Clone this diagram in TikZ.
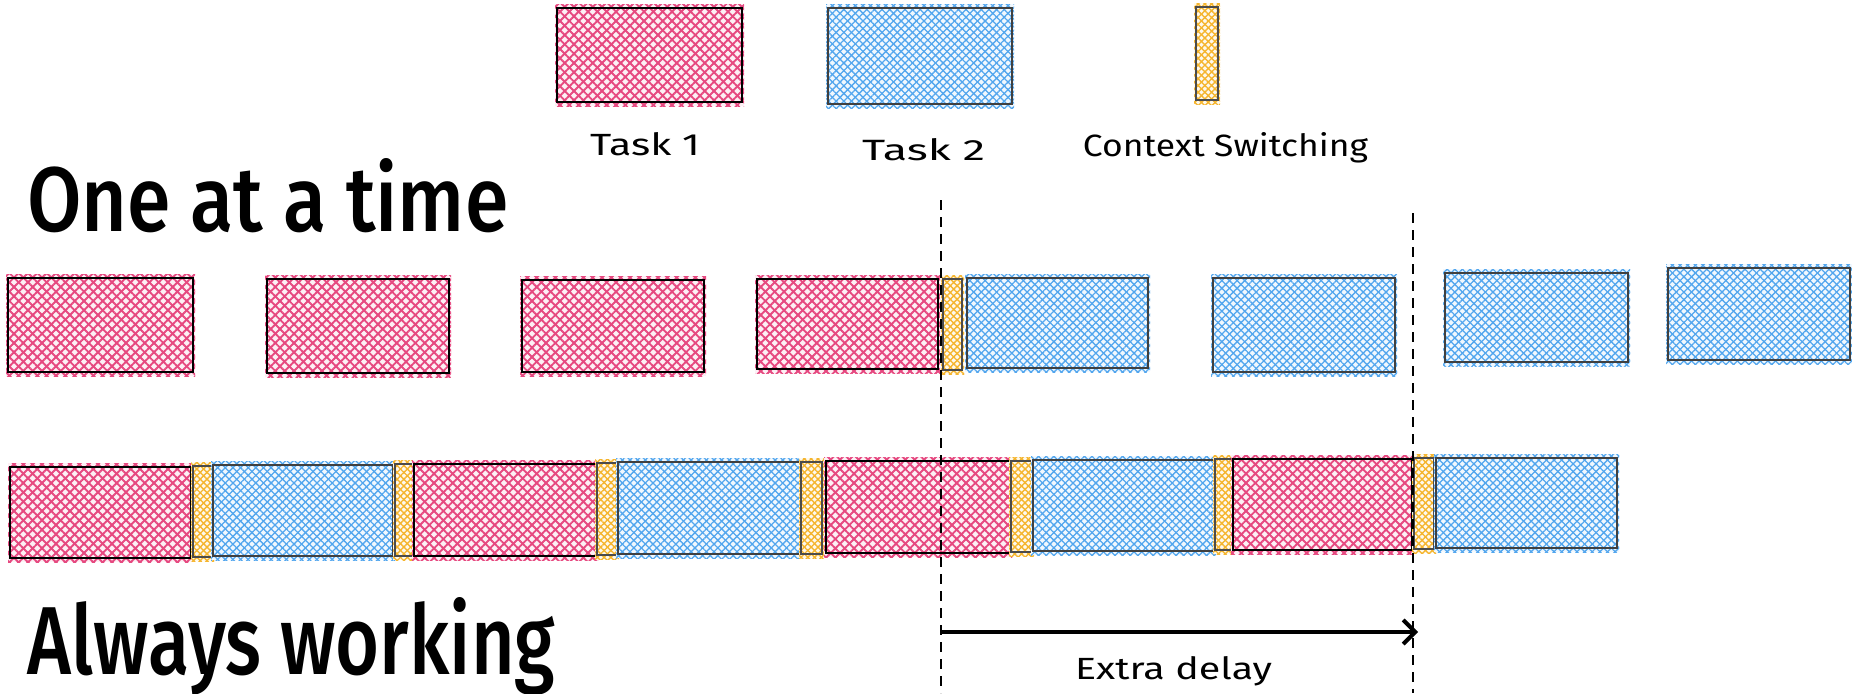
\documentclass[tikz,border=0pt]{standalone}
\usepackage{fontspec}
\setsansfont{Fira Sans}
\newfontfamily\handfont{Fira Sans}
\newfontfamily\headfont{Fira Sans Medium}
\usetikzlibrary{patterns.meta,arrows.meta,fit}
\definecolor{tpink}{HTML}{E64980}
\definecolor{tblue}{HTML}{52A6EE}
\definecolor{tyel}{HTML}{F5B52E}
\definecolor{edgec}{HTML}{1E1E1E}
\tikzset{
  hatch/.style n args={3}{fill=#1!8,
    postaction={pattern={Lines[angle=45,distance=#2,line width=#3]},pattern color=#1},
    postaction={pattern={Lines[angle=-45,distance=#2,line width=#3]},pattern color=#1}},
  pinkfill/.style={hatch={tpink}{3.3pt}{0.95pt}},
  bluefill/.style={hatch={tblue}{2.7pt}{0.65pt}},
  yelfill/.style={fill=tyel!55, hatch={tyel}{2.4pt}{0.7pt}},
  pinkedge/.style={draw=black, line width=1.4pt, inner sep=0pt, outer sep=0pt},
  blueedge/.style={draw=edgec!85, line width=0.9pt, inner sep=0pt, outer sep=0pt},
  yeledge/.style={draw=edgec!80, line width=0.7pt, inner sep=0pt, outer sep=0pt},
  guide/.style={draw=black, line width=1.3pt, dash pattern=on 5pt off 3.5pt},
  delay/.style={draw=black, line width=2pt, -{Straight Barb[length=6pt,width=12pt]}},
  lbl/.style={anchor=base, inner sep=0pt, font=\handfont},
  head/.style={anchor=base west, inner sep=0pt, font=\headfont}
}
% name, kind, x1, y1, x2, y2 (pixel coordinates, y downwards)
\newcommand\tbx[6]{%
  \path[#2fill] (#3-2,#4-4) rectangle (#5+2,#6+4);
  \node[#2edge, fit={(#3,#4)(#5,#6)}] (#1) {};}
\begin{document}
\begin{tikzpicture}[x=0.5pt,y=-0.5pt]
\useasboundingbox (0,0) rectangle (1852,693);
% legend
\tbx{L1}{pink}{557}{8}{742}{102}
\tbx{L2}{blue}{828}{8}{1012}{104}
\tbx{L3}{yel}{1196}{7}{1218}{100}
\node[lbl] (lab1) at (645,155) {\resizebox{55pt}{11.5pt}{Task 1}};
\node[lbl] (lab2) at (923.5,160) {\resizebox{61.5pt}{11pt}{Task 2}};
\node[lbl] (lab3) at (1225.5,156) {\resizebox{142.5pt}{12pt}{Context Switching}};
% headings
\node[head] (h1) at (27,231) {\resizebox{240.5pt}{36.5pt}{One at a time}};
\node[head] (h2) at (27,674) {\resizebox{264pt}{38.5pt}{Always working}};
% row 1
\tbx{A1}{pink}{8}{278}{193}{372}
\tbx{A2}{pink}{267}{279}{449}{373}
\tbx{A3}{pink}{522}{280}{704}{372}
\tbx{A4}{pink}{757}{279}{938}{369}
\tbx{A5}{yel}{943}{279}{962}{370}
\tbx{A6}{blue}{967}{278}{1148}{368}
\tbx{A7}{blue}{1213}{278}{1395}{372}
\tbx{A8}{blue}{1445}{273}{1628}{362}
\tbx{A9}{blue}{1668}{268}{1850}{360}
% row 2
\tbx{B1}{pink}{10}{467}{191}{558}
\tbx{B2}{yel}{193}{466}{212}{557}
\tbx{B3}{blue}{213}{465}{393}{556}
\tbx{B4}{yel}{395}{464}{413}{556}
\tbx{B5}{pink}{414}{464}{596}{556}
\tbx{B6}{yel}{597}{463}{617}{555}
\tbx{B7}{blue}{618}{462}{800}{554}
\tbx{B8}{yel}{801}{462}{822}{554}
\tbx{B9}{pink}{826}{461}{1010}{553}
\tbx{B10}{yel}{1011}{461}{1032}{552}
\tbx{B11}{blue}{1033}{460}{1214}{551}
\tbx{B12}{yel}{1215}{459}{1234}{550}
\tbx{B13}{pink}{1233}{459}{1412}{550}
\tbx{B14}{yel}{1414}{458}{1434}{549}
\tbx{B15}{blue}{1436}{458}{1617}{548}
% guides
\coordinate (d1t) at (941,200);
\coordinate (d1b) at (941,693);
\coordinate (d2t) at (1413,213);
\coordinate (d2b) at (1413,693);
\draw[guide] (d1t) -- (d1b);
\draw[guide] (d2t) -- (d2b);
% extra delay arrow
\coordinate (ar1) at (941,632);
\coordinate (ar2) at (1418,632);
\draw[delay] (ar1) -- (ar2);
\node[lbl] (lab4) at (1173.5,679) {\resizebox{98.5pt}{11.5pt}{Extra delay}};
\end{tikzpicture}
\end{document}
